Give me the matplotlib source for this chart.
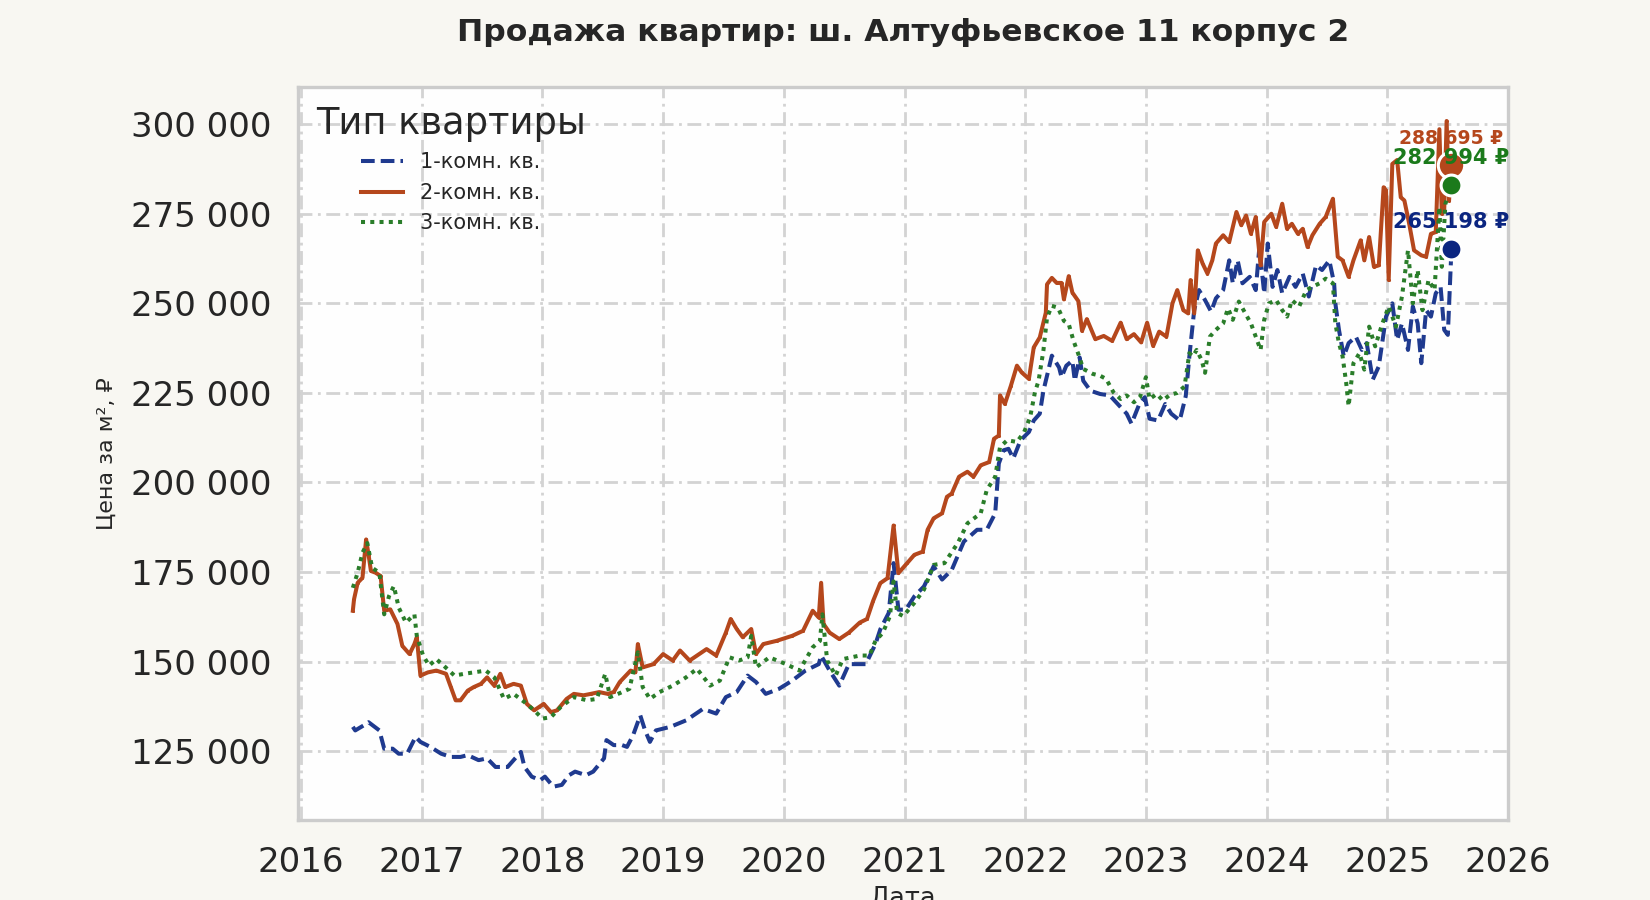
import numpy as np
import pandas as pd
import matplotlib
matplotlib.use("Agg")
import matplotlib.pyplot as plt
import matplotlib.dates as mdates

# --- data (decimal year, price per m2 in thousand RUB) ---
one_room_t = [2016.43, 2016.45, 2016.52, 2016.56, 2016.65, 2016.69, 2016.76, 2016.81, 2016.88, 2016.95,
              2016.99, 2017.07, 2017.16, 2017.24, 2017.32, 2017.38, 2017.47, 2017.54, 2017.61, 2017.71,
              2017.76, 2017.82, 2017.85, 2017.91, 2017.98, 2018.02, 2018.09, 2018.16, 2018.22, 2018.27,
              2018.36, 2018.42, 2018.51, 2018.53, 2018.59, 2018.66, 2018.70, 2018.75, 2018.81, 2018.85,
              2018.89, 2018.94, 2019.06, 2019.19, 2019.33, 2019.44, 2019.52, 2019.61, 2019.70, 2019.77,
              2019.85, 2019.96, 2020.07, 2020.18, 2020.29, 2020.31, 2020.38, 2020.46, 2020.54, 2020.68,
              2020.76, 2020.80, 2020.87, 2020.91, 2020.95, 2021.01, 2021.08, 2021.16, 2021.24, 2021.31,
              2021.39, 2021.49, 2021.60, 2021.68, 2021.75, 2021.78, 2021.82, 2021.86, 2021.90, 2021.96,
              2022.03, 2022.07, 2022.12, 2022.15, 2022.19, 2022.22, 2022.28, 2022.30, 2022.34, 2022.39,
              2022.41, 2022.45, 2022.48, 2022.54, 2022.62, 2022.70, 2022.79, 2022.84, 2022.88, 2022.94,
              2022.99, 2023.03, 2023.10, 2023.16, 2023.21, 2023.28, 2023.33, 2023.36, 2023.40, 2023.44,
              2023.49, 2023.54, 2023.58, 2023.64, 2023.69, 2023.72, 2023.76, 2023.80, 2023.86, 2023.91,
              2023.94, 2023.98, 2024.01, 2024.05, 2024.09, 2024.13, 2024.19, 2024.24, 2024.30, 2024.35,
              2024.41, 2024.46, 2024.52, 2024.56, 2024.57, 2024.60, 2024.64, 2024.68, 2024.74, 2024.79,
              2024.83, 2024.88, 2024.93, 2024.99, 2025.04, 2025.08, 2025.12, 2025.17, 2025.21, 2025.25,
              2025.28, 2025.32, 2025.36, 2025.40, 2025.44, 2025.47, 2025.50, 2025.53]
one_room_v = [131.8, 130.8, 132.2, 133.1, 130.8, 125.7, 125.7, 124.3, 124.3, 129.0,
              127.6, 126.2, 124.3, 123.4, 123.4, 123.9, 122.5, 123.0, 120.6, 120.6,
              122.5, 124.8, 120.6, 117.9, 116.9, 117.9, 115.1, 115.6, 118.3, 119.3,
              118.3, 119.3, 123.0, 128.1, 126.7, 126.7, 126.2, 129.4, 135.0, 130.8,
              127.6, 130.8, 131.8, 133.6, 136.8, 135.5, 140.1, 141.5, 146.1, 144.3,
              141.0, 142.4, 144.7, 147.5, 149.3, 151.7, 147.5, 143.3, 149.3, 149.3,
              154.9, 159.0, 163.6, 177.5, 164.5, 164.5, 168.2, 171.0, 176.6, 172.9,
              175.6, 183.5, 186.8, 186.8, 191.4, 205.3, 209.0, 209.4, 206.7, 211.8,
              214.1, 217.3, 219.2, 225.6, 231.2, 235.4, 232.1, 229.4, 232.6, 234.0,
              228.4, 234.9, 228.4, 225.6, 224.7, 224.3, 221.0, 219.2, 216.4, 221.5,
              223.8, 217.8, 217.3, 221.9, 219.2, 217.3, 224.1, 235.2, 248.1, 253.7,
              250.9, 247.7, 251.4, 253.7, 262.0, 255.6, 262.0, 255.6, 257.4, 253.7,
              265.7, 252.8, 266.7, 254.6, 259.3, 252.8, 257.4, 254.6, 258.3, 251.9,
              260.6, 259.3, 262.0, 255.6, 250.0, 242.6, 235.2, 238.9, 240.7, 237.0,
              238.9, 228.7, 232.4, 246.3, 250.0, 239.8, 244.4, 237.0, 249.1, 244.4,
              233.3, 248.1, 246.3, 252.8, 254.6, 242.6, 241.2, 265.198]

two_room_t = [2016.43, 2016.44, 2016.47, 2016.51, 2016.54, 2016.56, 2016.58, 2016.62, 2016.66, 2016.69,
              2016.74, 2016.80, 2016.84, 2016.90, 2016.94, 2016.96, 2016.99, 2017.05, 2017.12, 2017.20,
              2017.24, 2017.28, 2017.32, 2017.38, 2017.43, 2017.49, 2017.54, 2017.60, 2017.65, 2017.69,
              2017.76, 2017.82, 2017.87, 2017.93, 2017.97, 2018.01, 2018.07, 2018.12, 2018.20, 2018.26,
              2018.34, 2018.40, 2018.47, 2018.54, 2018.59, 2018.64, 2018.73, 2018.77, 2018.79, 2018.83,
              2018.92, 2019.00, 2019.08, 2019.14, 2019.22, 2019.36, 2019.44, 2019.52, 2019.56, 2019.61,
              2019.66, 2019.73, 2019.77, 2019.83, 2019.94, 2020.07, 2020.16, 2020.24, 2020.29, 2020.31,
              2020.33, 2020.38, 2020.46, 2020.54, 2020.63, 2020.69, 2020.74, 2020.80, 2020.86, 2020.91,
              2020.95, 2021.02, 2021.08, 2021.15, 2021.19, 2021.24, 2021.31, 2021.35, 2021.39, 2021.45,
              2021.52, 2021.57, 2021.63, 2021.70, 2021.74, 2021.78, 2021.79, 2021.83, 2021.88, 2021.93,
              2021.97, 2022.03, 2022.07, 2022.12, 2022.17, 2022.18, 2022.22, 2022.26, 2022.30, 2022.32,
              2022.36, 2022.39, 2022.44, 2022.47, 2022.51, 2022.58, 2022.65, 2022.72, 2022.79, 2022.84,
              2022.90, 2022.96, 2023.01, 2023.06, 2023.11, 2023.17, 2023.22, 2023.26, 2023.31, 2023.35,
              2023.37, 2023.40, 2023.43, 2023.47, 2023.51, 2023.55, 2023.58, 2023.64, 2023.69, 2023.75,
              2023.79, 2023.83, 2023.87, 2023.91, 2023.95, 2023.98, 2024.04, 2024.08, 2024.13, 2024.17,
              2024.21, 2024.26, 2024.30, 2024.34, 2024.38, 2024.44, 2024.49, 2024.55, 2024.59, 2024.63,
              2024.68, 2024.72, 2024.78, 2024.81, 2024.85, 2024.89, 2024.93, 2024.97, 2024.99, 2025.01,
              2025.04, 2025.08, 2025.11, 2025.14, 2025.18, 2025.22, 2025.28, 2025.32, 2025.36, 2025.40,
              2025.43, 2025.45, 2025.47, 2025.49, 2025.51, 2025.53]
two_room_v = [164.2, 167.4, 172.0, 173.4, 184.1, 179.9, 175.3, 174.8, 173.9, 164.2,
              164.6, 160.5, 154.4, 152.1, 154.9, 156.8, 146.1, 147.0, 147.5, 146.6,
              142.9, 139.2, 139.2, 141.9, 142.9, 143.8, 145.6, 143.3, 146.6, 142.9,
              143.8, 143.3, 138.2, 136.4, 137.3, 138.2, 135.9, 136.4, 139.6, 141.0,
              140.6, 141.0, 141.5, 141.0, 141.5, 144.3, 147.5, 147.0, 154.9, 148.4,
              149.3, 152.1, 150.3, 153.1, 150.3, 153.5, 151.7, 158.1, 161.9, 159.1,
              156.8, 159.1, 152.1, 154.9, 155.8, 157.2, 158.6, 164.2, 162.3, 172.0,
              160.5, 158.1, 156.3, 158.1, 160.9, 161.9, 166.9, 171.9, 173.3, 188.0,
              174.7, 177.5, 179.8, 180.7, 186.8, 190.0, 191.4, 196.0, 196.9, 201.6,
              203.0, 201.6, 204.8, 205.7, 212.2, 213.1, 224.3, 221.9, 227.0, 232.6,
              230.7, 228.9, 237.7, 240.5, 247.4, 255.3, 257.1, 255.7, 255.7, 251.1,
              257.6, 253.0, 250.6, 242.3, 245.6, 240.0, 240.9, 239.5, 244.6, 240.0,
              241.4, 239.1, 244.6, 238.1, 242.1, 240.7, 250.0, 253.7, 248.1, 247.2,
              256.5, 247.2, 264.8, 261.1, 258.3, 262.0, 266.7, 269.0, 267.1, 275.5,
              271.8, 274.5, 269.4, 274.1, 260.6, 272.7, 275.0, 271.3, 277.8, 270.8,
              272.2, 269.4, 270.8, 265.7, 269.0, 272.2, 274.1, 279.2, 263.0, 262.0,
              257.4, 262.0, 267.6, 262.0, 268.5, 260.2, 260.6, 282.4, 281.5, 256.5,
              288.9, 290.0, 279.6, 278.7, 272.2, 264.8, 263.4, 263.0, 269.4, 269.9,
              298.6, 275.0, 276.0, 300.9, 278.7, 288.695]

three_room_t = [2016.43, 2016.47, 2016.51, 2016.55, 2016.59, 2016.65, 2016.69, 2016.73, 2016.77, 2016.81,
                2016.87, 2016.94, 2016.96, 2017.01, 2017.06, 2017.12, 2017.18, 2017.27, 2017.35, 2017.43,
                2017.53, 2017.60, 2017.68, 2017.76, 2017.85, 2017.93, 2018.00, 2018.07, 2018.15, 2018.26,
                2018.37, 2018.45, 2018.52, 2018.56, 2018.64, 2018.72, 2018.79, 2018.83, 2018.89, 2018.97,
                2019.08, 2019.19, 2019.28, 2019.39, 2019.47, 2019.55, 2019.63, 2019.70, 2019.73, 2019.77,
                2019.88, 2020.02, 2020.13, 2020.24, 2020.30, 2020.32, 2020.36, 2020.43, 2020.49, 2020.63,
                2020.71, 2020.76, 2020.82, 2020.88, 2020.91, 2020.94, 2020.99, 2021.08, 2021.16, 2021.24,
                2021.33, 2021.44, 2021.52, 2021.63, 2021.68, 2021.75, 2021.79, 2021.85, 2021.93, 2021.99,
                2022.04, 2022.08, 2022.11, 2022.15, 2022.18, 2022.22, 2022.27, 2022.32, 2022.36, 2022.40,
                2022.44, 2022.48, 2022.56, 2022.62, 2022.67, 2022.73, 2022.79, 2022.84, 2022.90, 2022.95,
                2023.00, 2023.03, 2023.09, 2023.14, 2023.20, 2023.26, 2023.32, 2023.36, 2023.39, 2023.42,
                2023.46, 2023.49, 2023.53, 2023.58, 2023.64, 2023.68, 2023.72, 2023.77, 2023.83, 2023.87,
                2023.91, 2023.95, 2023.98, 2024.02, 2024.08, 2024.13, 2024.17, 2024.21, 2024.27, 2024.33,
                2024.38, 2024.44, 2024.49, 2024.55, 2024.57, 2024.60, 2024.63, 2024.66, 2024.68, 2024.72,
                2024.77, 2024.81, 2024.85, 2024.90, 2024.96, 2025.01, 2025.07, 2025.12, 2025.17, 2025.21,
                2025.25, 2025.29, 2025.34, 2025.39, 2025.43, 2025.45, 2025.48, 2025.53]
three_room_v = [170.6, 174.8, 180.4, 183.1, 176.2, 174.8, 163.2, 168.3, 171.1, 165.1,
                160.9, 163.2, 157.2, 151.7, 148.9, 150.7, 148.9, 146.1, 146.6, 147.0,
                147.5, 145.6, 139.6, 141.0, 138.7, 136.4, 134.1, 134.5, 137.3, 140.1,
                139.2, 139.6, 146.6, 140.1, 141.2, 142.4, 152.6, 142.9, 139.6, 141.5,
                143.3, 145.6, 148.0, 143.3, 144.7, 151.2, 150.3, 151.2, 157.2, 148.4,
                151.2, 149.3, 147.5, 154.0, 155.8, 163.2, 150.3, 146.1, 150.7, 151.7,
                151.7, 155.8, 158.0, 162.7, 172.4, 163.6, 162.7, 166.4, 170.1, 177.0,
                177.5, 183.1, 188.6, 191.4, 197.9, 201.6, 209.9, 211.8, 211.3, 214.1,
                218.2, 225.2, 228.4, 236.8, 246.0, 249.3, 248.8, 245.1, 244.2, 239.5,
                235.8, 231.7, 230.3, 229.8, 228.9, 225.2, 223.3, 224.3, 222.4, 223.8,
                229.4, 223.3, 224.7, 222.9, 224.5, 225.0, 226.8, 236.1, 235.2, 237.0,
                234.3, 230.6, 240.7, 242.6, 244.4, 248.6, 245.4, 250.5, 246.8, 244.4,
                240.7, 237.0, 245.4, 250.0, 250.9, 248.1, 246.3, 250.9, 249.1, 253.7,
                254.6, 255.6, 256.9, 255.6, 244.4, 238.9, 235.2, 227.8, 221.3, 233.3,
                236.1, 231.5, 243.5, 238.0, 244.4, 249.1, 243.5, 251.9, 264.8, 250.0,
                259.3, 248.1, 256.5, 253.7, 276.9, 260.2, 277.8, 282.994]

labels = ["1-комн. кв.", "2-комн. кв.", "3-комн. кв."]
title = "Продажа квартир: ш. Алтуфьевское 11 корпус 2"


def to_dates(years):
    years = np.asarray(years)
    base = pd.to_datetime([f"{int(y)}-01-01" for y in years])
    return base + pd.to_timedelta((years - years.astype(int)) * 365.25, unit="D")


def fmt_thousands(v, _pos=None):
    return f"{int(round(v)):,}".replace(",", " ")


BLUE, BLUE_DARK = "#1f3a8f", "#0b2580"
ORANGE = "#b5471c"
GREEN, GREEN_DARK = "#2a7d2a", "#1b7a1b"
TEXT = "#262626"

fig = plt.figure(figsize=(16.5, 9), dpi=100, facecolor="#f8f7f2")
ax = fig.add_axes([0.1806, 0.0889, 0.914 - 0.1806, 0.903 - 0.0889])
ax.set_facecolor("#fefefe")

# (times, values, line colour, marker/text colour, line style, marker size, label size)
series = [
    (one_room_t, one_room_v, BLUE, BLUE_DARK, dict(ls=(0, (3.4, 1.5)), lw=2.9), 15, 15),
    (two_room_t, two_room_v, ORANGE, ORANGE, dict(ls="-", lw=2.9, marker="o", markersize=1.2), 19, 13.5),
    (three_room_t, three_room_v, GREEN, GREEN_DARK, dict(ls=(0, (1, 1.3)), lw=2.9), 15, 15),
]
for (t, v, c, cdark, style, ms, fs), lab in zip(series, labels):
    ax.plot(to_dates(t), np.array(v) * 1000, color=c, label=lab, **style)

# last-value markers with labels
ann_offsets = [4.5, 2.5, 5]
for (t, v, c, cdark, style, ms, fs), off in zip(series, ann_offsets):
    d = to_dates(t)
    last = v[-1] * 1000
    ax.plot(d[-1], last, "o", color=cdark, ms=ms, mec="white", mew=2.2, zorder=5)
    ax.annotate(f"{fmt_thousands(last)} ₽", (d[-1], last), xytext=(0, ms * 0.5 + off),
                textcoords="offset points", ha="center", va="bottom",
                color=cdark, fontsize=fs, fontweight="bold", zorder=6)

ax.xaxis.set_major_locator(mdates.YearLocator())
ax.xaxis.set_major_formatter(mdates.DateFormatter("%Y"))
ax.yaxis.set_major_locator(matplotlib.ticker.MultipleLocator(25000))
ax.yaxis.set_major_formatter(matplotlib.ticker.FuncFormatter(fmt_thousands))
ax.set_xlim(to_dates([2015.975])[0], to_dates([2026.0])[0])
ax.set_ylim(105800, 310300)

ax.grid(True, color="#d3d3d3", lw=2.0, ls=(0, (5, 2, 1, 2)))
ax.set_axisbelow(True)
for s in ax.spines.values():
    s.set_color("#cccccc")
    s.set_linewidth(2.4)
ax.tick_params(axis="both", length=0, pad=19, labelsize=24.5, labelcolor=TEXT)

ax.set_title(title, fontsize=22.6, fontweight="bold", color=TEXT, pad=33)
ax.set_ylabel("Цена за м², ₽", fontsize=16, color=TEXT, labelpad=10)
ax.set_xlabel("Дата", fontsize=18.5, color=TEXT, labelpad=4)

leg = ax.legend(title="Тип квартиры", loc="upper left", frameon=False, fontsize=15,
                title_fontsize=26.5, handlelength=2.0, handletextpad=0.8,
                borderaxespad=0.45, labelspacing=0.5)
leg.get_title().set_color(TEXT)
for txt in leg.get_texts():
    txt.set_color(TEXT)

fig.savefig("out.png", dpi=100, facecolor=fig.get_facecolor())
